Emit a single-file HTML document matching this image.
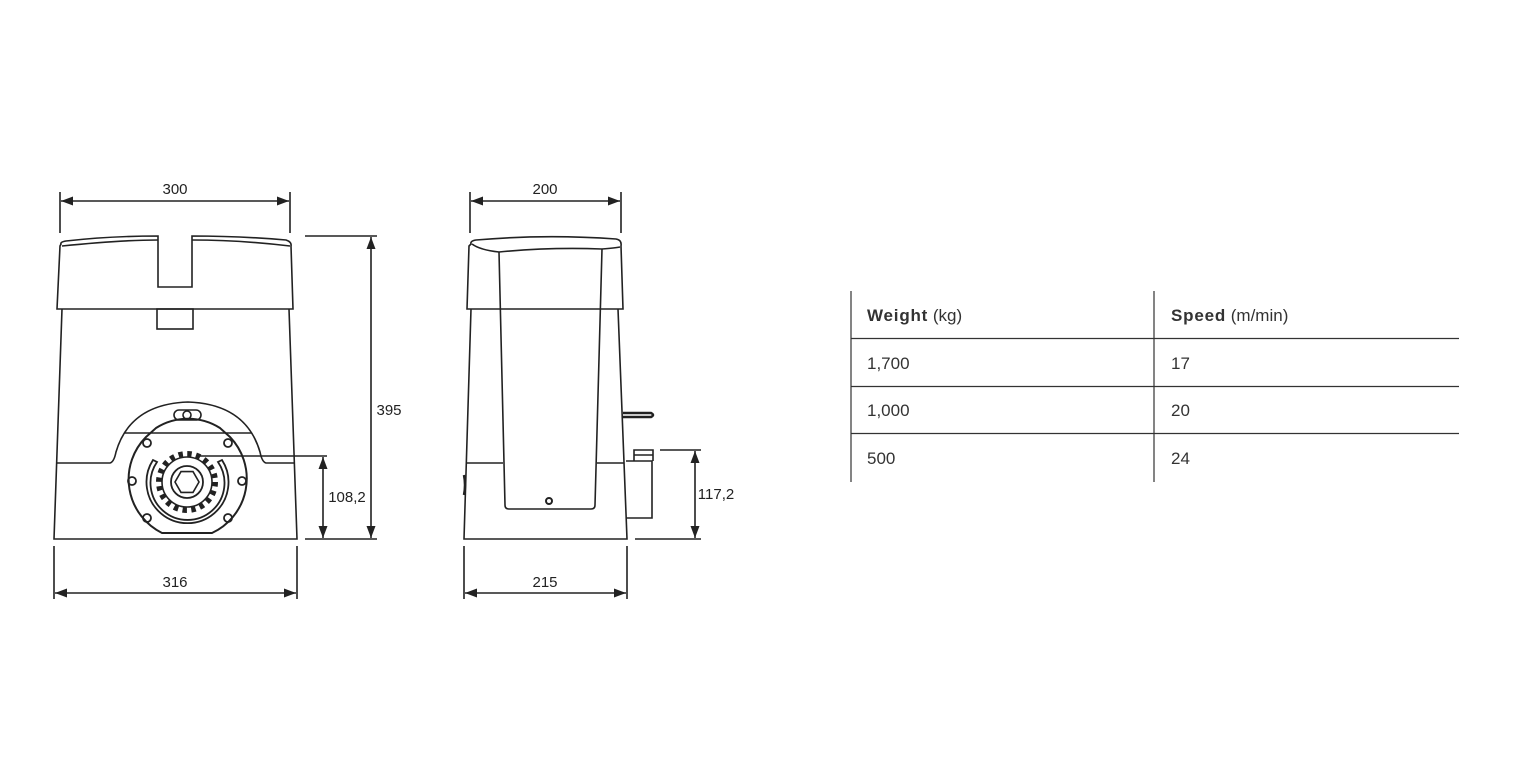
<!DOCTYPE html>
<html><head><meta charset="utf-8"><style>
html,body{margin:0;padding:0;background:#fff;}
body{width:1536px;height:779px;position:relative;overflow:hidden;font-family:"Liberation Sans",sans-serif;}
svg{position:absolute;left:0;top:0;}
.t{font-family:"Liberation Sans Narrow","Liberation Sans",sans-serif;font-size:15px;fill:#222;}
.tb{font-family:"Liberation Sans",sans-serif;font-size:17px;fill:#333;}
</style></head><body>
<svg width="1536" height="779" viewBox="0 0 1536 779">
<defs>
<marker id="a" viewBox="0 0 12 10" refX="12" refY="5" markerWidth="12" markerHeight="10" markerUnits="userSpaceOnUse" orient="auto-start-reverse"><path d="M0,0.5 L12,5 L0,9.5 z" fill="#222"/></marker>
</defs>
<g stroke="#222" stroke-width="1.6" fill="none">
<!-- FRONT VIEW -->
<line x1="60" y1="192" x2="60" y2="233"/><line x1="290" y1="192" x2="290" y2="233"/>
<line x1="61" y1="201" x2="289" y2="201" marker-start="url(#a)" marker-end="url(#a)"/>
<path d="M61,244 Q60,242 66,241 Q110,236 158,236 L158,287 L192,287 L192,236 Q240,236 286,240 Q292,242 291,246 L293,309 L57,309 L60,246 Z"/>
<path d="M62,246 Q120,240 158,240 M192,240 Q240,240 290,246"/>
<rect x="157" y="309" width="36" height="20"/>
<path d="M62,309 L54,539 L297,539 L289,309"/>
<path d="M57,463 L110,463 Q114,462 116,452 Q130,404 188,402 Q246,404 260,452 Q262,462 266,463 L294,463"/>
<line x1="124" y1="433" x2="252" y2="433"/>
<rect x="174" y="410" width="27" height="10" rx="5"/>
<circle cx="187" cy="415" r="4"/>
<path d="M162,533 L212,533 A60,60 0 0 0 230,437 L220,428 A60,60 0 0 0 156,428 L146,437 A60,60 0 0 0 162,533 Z" stroke-width="2"/>
<g stroke-width="1.8">
<circle cx="147" cy="443" r="4"/><circle cx="228" cy="443" r="4"/>
<circle cx="132" cy="481" r="4"/><circle cx="242" cy="481" r="4"/>
<circle cx="147" cy="518" r="4"/><circle cx="228" cy="518" r="4"/>
</g>
<path d="M153,460 A41,41 0 1 0 222,460 L218,462 A37,37 0 1 1 157,462 Z" stroke-width="1.8"/>
<circle cx="187" cy="482" r="25" stroke-width="1.6"/>
<circle cx="187" cy="482" r="28" stroke-width="6" stroke-dasharray="4.4 4.4"/>
<circle cx="187" cy="482" r="16" stroke-width="1.8"/>
<polygon points="199,482 193,492.4 181,492.4 175,482 181,471.6 193,471.6"/>
<line x1="200" y1="456" x2="327" y2="456"/>
<line x1="323" y1="457" x2="323" y2="538" marker-start="url(#a)" marker-end="url(#a)"/>
<line x1="305" y1="236" x2="377" y2="236"/>
<line x1="305" y1="539" x2="377" y2="539"/>
<line x1="371" y1="237" x2="371" y2="538" marker-start="url(#a)" marker-end="url(#a)"/>
<line x1="54" y1="546" x2="54" y2="599"/><line x1="297" y1="546" x2="297" y2="599"/>
<line x1="55" y1="593" x2="296" y2="593" marker-start="url(#a)" marker-end="url(#a)"/>
<!-- SIDE VIEW -->
<line x1="470" y1="192" x2="470" y2="233"/><line x1="621" y1="192" x2="621" y2="233"/>
<line x1="471" y1="201" x2="620" y2="201" marker-start="url(#a)" marker-end="url(#a)"/>
<path d="M471,244 Q470,241 476,240 Q545,234 616,239 Q622,240 621,246 L623,309 L467,309 L469,246 Z"/>
<path d="M472,244 Q480,250 499,252 Q550,247 602,249 Q615,248 620,247"/>
<path d="M499,252 L505,505 Q505,509 509,509 L591,509 Q595,509 595,505 L602,249"/>
<circle cx="549" cy="501" r="3" stroke-width="2"/>
<path d="M471,309 L464,539 L627,539 L618,309"/>
<line x1="467" y1="463" x2="503" y2="463"/><line x1="597" y1="463" x2="624" y2="463"/>
<path d="M464,475 Q466,485 464,495" stroke-width="2.5"/>
<path d="M623,413 L651,413 Q655,415 651,417 L623,417" stroke-width="2.5"/>
<path d="M626,461 L652,461 L652,518 L626,518"/>
<path d="M634,461 L634,450 L653,450 L653,461"/>
<line x1="634" y1="455" x2="653" y2="455"/>
<line x1="660" y1="450" x2="701" y2="450"/>
<line x1="635" y1="539" x2="701" y2="539"/>
<line x1="695" y1="451" x2="695" y2="538" marker-start="url(#a)" marker-end="url(#a)"/>
<line x1="464" y1="546" x2="464" y2="599"/><line x1="627" y1="546" x2="627" y2="599"/>
<line x1="465" y1="593" x2="626" y2="593" marker-start="url(#a)" marker-end="url(#a)"/>
</g>
<g class="t" text-anchor="middle">
<text x="175" y="194">300</text>
<text x="175" y="587">316</text>
<text x="389" y="415">395</text>
<text x="347" y="502">108,2</text>
<text x="545" y="194">200</text>
<text x="545" y="587">215</text>
<text x="716" y="499">117,2</text>
</g>
<!-- TABLE -->
<g stroke="#333" stroke-width="1.2">
<line x1="851" y1="291" x2="851" y2="482"/>
<line x1="1154" y1="291" x2="1154" y2="482"/>
<line x1="851" y1="338.5" x2="1459" y2="338.5"/>
<line x1="851" y1="386.5" x2="1459" y2="386.5"/>
<line x1="851" y1="433.5" x2="1459" y2="433.5"/>
</g>
<g class="tb">
<text x="867" y="321"><tspan font-weight="bold" letter-spacing="0.8">Weight</tspan> (kg)</text>
<text x="1171" y="321"><tspan font-weight="bold" letter-spacing="0.8">Speed</tspan> (m/min)</text>
<text x="867" y="369">1,700</text><text x="1171" y="369">17</text>
<text x="867" y="416">1,000</text><text x="1171" y="416">20</text>
<text x="867" y="464">500</text><text x="1171" y="464">24</text>
</g>
</svg>
</body></html>
